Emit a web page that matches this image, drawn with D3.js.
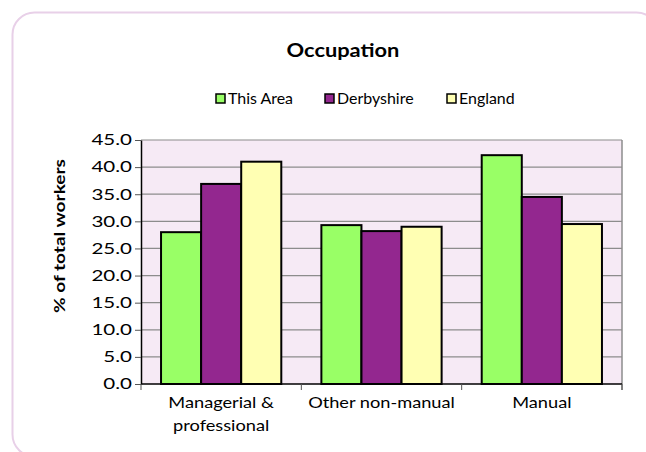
<!DOCTYPE html>
<html lang="en">
<head>
<meta charset="utf-8">
<script src="https://d3js.org/d3.v7.min.js"></script>
<style type="text/css">
body {
	margin: 0;
	background: #fff;
	font-family: Lato, "Open Sans", sans-serif;
}
</style>
</head>
<body>
<script type="text/javascript">

var categories = [["Managerial &", "professional"], ["Other non-manual"], ["Manual"]];
var seriesNames = ["This Area", "Derbyshire", "England"];
var thisArea = [28.0, 29.3, 42.2];
var derbyshire = [36.9, 28.2, 34.5];
var england = [41.0, 29.0, 29.5];
var yTicks = [0, 5, 10, 15, 20, 25, 30, 35, 40, 45];
var colors = ["#99ff66", "#93278f", "#ffffb3"];

var width = 646;
var height = 452;
var margin = {top: 140, right: 24, bottom: 68, left: 141};

var svg = d3.select("body")
	.append("svg")
	.attr("width", width)
	.attr("height", height);

// text is drawn a bit wide, like the original
function place(sel, x, y, sx) {
	sel.attr("transform", "translate(" + x + "," + y + ") scale(" + sx + ",1)");
}

// outer rounded frame
svg.append("rect")
	.attr("x", 12.5)
	.attr("y", 12.5)
	.attr("width", 646)
	.attr("height", 444)
	.attr("rx", 22)
	.attr("fill", "none")
	.attr("stroke", "#e8d0e8")
	.attr("stroke-width", 2);

svg.append("text")
	.attr("text-anchor", "middle")
	.style("font-size", "19.5px")
	.style("font-weight", "bold")
	.text("Occupation")
	.call(place, 343, 57, 1.12);

var seriesValues = [thisArea, derbyshire, england];

var x0 = d3.scaleBand()
	.domain(d3.range(categories.length))
	.range([margin.left, width - margin.right])
	.paddingInner(0.25)
	.paddingOuter(0.125);

var x1 = d3.scaleBand()
	.domain(d3.range(seriesNames.length))
	.range([0, x0.bandwidth()]);

var y = d3.scaleLinear()
	.domain([0, 45])
	.range([height - margin.bottom, margin.top]);

var plotLeft = margin.left;
var plotRight = width - margin.right;

svg.append("rect")
	.attr("x", plotLeft)
	.attr("y", y(45))
	.attr("width", plotRight - plotLeft)
	.attr("height", y(0) - y(45))
	.attr("fill", "#f6eaf5");

// gridlines
svg.append("g")
	.selectAll("line")
	.data(yTicks.slice(1))
	.enter()
	.append("line")
	.attr("x1", plotLeft)
	.attr("x2", plotRight)
	.attr("y1", function(d) { return y(d); })
	.attr("y2", function(d) { return y(d); })
	.attr("stroke", "#8c8c8c")
	.attr("stroke-width", 1.2);

// right border
svg.append("line")
	.attr("x1", plotRight)
	.attr("x2", plotRight)
	.attr("y1", y(45))
	.attr("y2", y(0) + 6)
	.attr("stroke", "#8c8c8c")
	.attr("stroke-width", 1.5);

// bars
var groups = svg.append("g")
	.selectAll("g")
	.data(categories)
	.enter()
	.append("g")
	.attr("transform", function(d, i) { return "translate(" + x0(i) + ",0)"; });

groups.selectAll("rect")
	.data(function(d, i) { return seriesValues.map(function(s, k) { return {k: k, v: s[i]}; }); })
	.enter()
	.append("rect")
	.attr("x", function(d) { return x1(d.k); })
	.attr("y", function(d) { return y(d.v); })
	.attr("width", x1.bandwidth())
	.attr("height", function(d) { return y(0) - y(d.v); })
	.attr("fill", function(d) { return colors[d.k]; })
	.attr("stroke", "#000")
	.attr("stroke-width", 2);

// y axis
var yAxis = svg.append("g")
	.attr("transform", "translate(" + plotLeft + ",0)")
	.call(d3.axisLeft(y).tickValues(yTicks).tickSize(6).tickSizeOuter(0)
		.tickFormat(d3.format(".1f")));
yAxis.select(".domain").attr("stroke", "#000").attr("stroke-width", 1.5);
yAxis.selectAll(".tick line").attr("stroke", "#555");
yAxis.selectAll("text")
	.style("font-size", "15px")
	.style("font-family", "Lato, sans-serif")
	.attr("fill", "#000")
	.attr("x", -9 / 1.37)
	.attr("transform", "scale(1.37,1)");

// x axis with ticks between categories
var xBottom = y(0);
svg.append("line")
	.attr("x1", plotLeft)
	.attr("x2", plotRight)
	.attr("y1", xBottom)
	.attr("y2", xBottom)
	.attr("stroke", "#000")
	.attr("stroke-width", 1.5);

var step = (plotRight - plotLeft) / categories.length;
svg.append("g")
	.selectAll("line")
	.data(d3.range(categories.length + 1))
	.enter()
	.append("line")
	.attr("x1", function(d) { return plotLeft + d * step; })
	.attr("x2", function(d) { return plotLeft + d * step; })
	.attr("y1", xBottom)
	.attr("y2", xBottom + 6)
	.attr("stroke", "#555");

var xLabels = svg.append("g")
	.selectAll("text")
	.data(categories)
	.enter()
	.append("text")
	.attr("text-anchor", "middle")
	.style("font-size", "15.3px")
	.each(function(d, i) {
		d3.select(this).call(place, x0(i) + x0.bandwidth() / 2, 408, 1.19);
	});

xLabels.selectAll("tspan")
	.data(function(d) { return d; })
	.enter()
	.append("tspan")
	.attr("x", 0)
	.attr("dy", function(d, i) { return i === 0 ? 0 : 23; })
	.text(function(d) { return d; });

// y title
svg.append("text")
	.attr("transform", "translate(65,236) rotate(-90) scale(1.27,1)")
	.attr("text-anchor", "middle")
	.style("font-size", "15px")
	.style("font-weight", "bold")
	.text("% of total workers");

// legend
var legendX = [216, 325, 447];
var legend = svg.append("g")
	.selectAll("g")
	.data(seriesNames)
	.enter()
	.append("g")
	.attr("transform", function(d, i) { return "translate(" + legendX[i] + ",94)"; });

legend.append("rect")
	.attr("width", 9)
	.attr("height", 9)
	.attr("fill", function(d, i) { return colors[i]; })
	.attr("stroke", "#000")
	.attr("stroke-width", 1.5);

legend.append("text")
	.style("font-size", "14.5px")
	.text(function(d) { return d; })
	.call(place, 12, 10, 1.1);

</script>
</body>
</html>
